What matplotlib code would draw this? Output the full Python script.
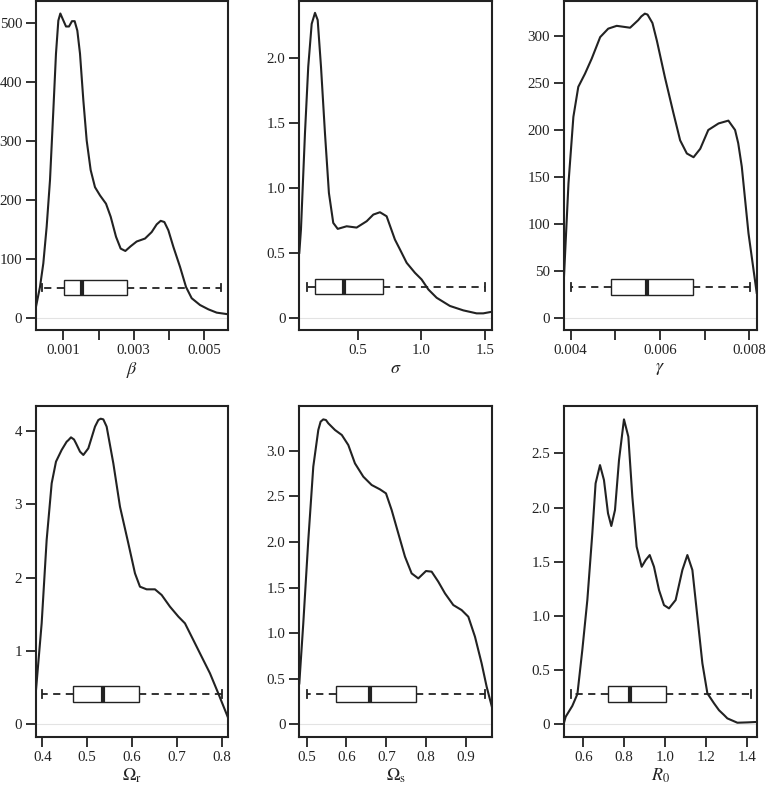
import matplotlib
matplotlib.use("Agg")
import matplotlib.pyplot as plt

plt.rcParams['font.family'] = ['Liberation Serif', 'DejaVu Serif']
plt.rcParams['mathtext.fontset'] = 'stix'

# ---- data (density curves + box summaries) ----
beta_x = [0.000223, 0.000336, 0.000431, 0.000526, 0.000621, 0.000716, 0.000791, 0.000858, 0.000915,
          0.00098, 0.001076, 0.001161, 0.001246, 0.001322, 0.001398, 0.001474, 0.001569, 0.001664,
          0.001777, 0.0019, 0.002043, 0.002213, 0.002346, 0.002498, 0.00263, 0.002763, 0.002915,
          0.003085, 0.003322, 0.003512, 0.003654, 0.003768, 0.003872, 0.003986, 0.004128, 0.004318,
          0.004488, 0.004649, 0.004886, 0.005123, 0.00536, 0.00569]
beta_y = [19.7, 53, 93, 155, 234, 352, 448, 504, 516, 507, 494, 494, 503, 503, 487, 448, 369, 301,
          251, 222, 208, 194, 172, 138, 118, 114, 122, 130, 135, 146, 159, 165, 163, 149, 121, 87,
          53, 34, 22.5, 15.2, 9.6, 6.8]
beta_box = dict(whislo=0.000403, q1=0.00102, med=0.00152, q3=0.0028, whishi=0.00548)

sigma_x = [0.043, 0.056, 0.0875, 0.113, 0.140, 0.166, 0.187, 0.213, 0.244, 0.275, 0.309, 0.344,
           0.414, 0.492, 0.571, 0.623, 0.675, 0.727, 0.792, 0.832, 0.884, 0.949, 1.001, 1.054,
           1.119, 1.223, 1.328, 1.432, 1.484, 1.555]
sigma_y = [0.499, 0.678, 1.42, 1.93, 2.26, 2.345, 2.29, 1.93, 1.42, 0.959, 0.729, 0.683,
           0.703, 0.693, 0.742, 0.793, 0.811, 0.78, 0.601, 0.524, 0.422, 0.345, 0.294, 0.217,
           0.153, 0.090, 0.056, 0.033, 0.033, 0.046]
sigma_box = dict(whislo=0.100, q1=0.166, med=0.393, q3=0.701, whishi=1.5)

gamma_x = [0.00385, 0.00395, 0.00406, 0.00417, 0.00432, 0.00447, 0.00466, 0.00484, 0.00503, 0.00518,
           0.00533, 0.00551, 0.00558, 0.00566, 0.00572, 0.00583, 0.00593, 0.00611, 0.0063, 0.00645,
           0.0066, 0.00675, 0.0069, 0.00708, 0.00731, 0.00753, 0.00768, 0.00775, 0.00783, 0.00798,
           0.008164]
gamma_y = [44, 143, 214, 246, 260, 276, 299, 308, 311, 310, 309, 317, 321, 324, 323, 314, 295, 256,
           218, 189, 175, 171, 180, 200, 207, 210, 200, 186, 161, 90, 26.5]
gamma_box = dict(whislo=0.004, q1=0.0049, med=0.0057, q3=0.00673, whishi=0.00801)

omr_x = [0.3859, 0.3985, 0.4096, 0.4208, 0.4304, 0.443, 0.4542, 0.4579, 0.4638, 0.4705, 0.475,
         0.4839, 0.4913, 0.5024, 0.5173, 0.5247, 0.5299, 0.5358, 0.5432, 0.5581, 0.5729, 0.5915,
         0.6063, 0.6174, 0.6323, 0.6508, 0.6657, 0.6842, 0.7030, 0.7176, 0.7362, 0.7547, 0.7733,
         0.7918, 0.8141]
omr_y = [0.468, 1.376, 2.511, 3.283, 3.578, 3.737, 3.85, 3.87, 3.909, 3.88, 3.827, 3.714, 3.669,
         3.759, 4.055, 4.145, 4.163, 4.154, 4.055, 3.555, 2.965, 2.465, 2.057, 1.875, 1.839, 1.839,
         1.762, 1.603, 1.467, 1.376, 1.149, 0.922, 0.695, 0.422, 0.082]
omr_box = dict(whislo=0.4, q1=0.469, med=0.5343, q3=0.616, whishi=0.8)

oms_x = [0.4816, 0.4916, 0.5042, 0.5167, 0.5293, 0.5351, 0.5418, 0.5485, 0.5544, 0.5711, 0.5883,
         0.6046, 0.6213, 0.6423, 0.6632, 0.6841, 0.6992, 0.7134, 0.7301, 0.7469, 0.7636, 0.7803,
         0.7996, 0.8138, 0.8305, 0.8473, 0.8682, 0.8891, 0.9059, 0.9226, 0.9393, 0.9519, 0.9661]
oms_y = [0.449, 1.107, 2.021, 2.825, 3.227, 3.318, 3.343, 3.336, 3.3, 3.227, 3.172, 3.062, 2.861,
         2.715, 2.624, 2.576, 2.532, 2.35, 2.094, 1.838, 1.655, 1.6, 1.681, 1.674, 1.564, 1.436,
         1.308, 1.253, 1.18, 0.961, 0.669, 0.413, 0.175]
oms_box = dict(whislo=0.5, q1=0.5736, med=0.659, q3=0.7736, whishi=0.9485)

r0_x = [0.5053, 0.5135, 0.546, 0.571, 0.595, 0.6196, 0.644, 0.660, 0.6816, 0.701, 0.7208, 0.737,
        0.755, 0.7747, 0.799, 0.8204, 0.840, 0.861, 0.8857, 0.9053, 0.925, 0.946, 0.9706, 0.995,
        1.0195, 1.052, 1.085, 1.1095, 1.134, 1.1585, 1.183, 1.2075, 1.24, 1.2645, 1.289, 1.3053,
        1.3543, 1.4033, 1.449]
r0_y = [0.015, 0.07, 0.17, 0.28, 0.686, 1.147, 1.762, 2.223, 2.392, 2.254, 1.947, 1.83, 1.977,
        2.438, 2.814, 2.654, 2.10, 1.639, 1.454, 1.516, 1.562, 1.454, 1.239, 1.10, 1.07, 1.147,
        1.424, 1.562, 1.424, 0.993, 0.563, 0.286, 0.194, 0.13, 0.086, 0.055, 0.015, 0.018, 0.022]
r0_box = dict(whislo=0.538, q1=0.7224, med=0.8286, q3=1.0033, whishi=1.4196)

labels = [r'$\beta$', r'$\sigma$', r'$\gamma$',
          r'$\Omega_{\mathrm{r}}$', r'$\Omega_{\mathrm{s}}$', r'$R_0$']

xtick_vals = [[0.001, 0.002, 0.003, 0.004, 0.005], [0.5, 1.0, 1.5],
              [0.004, 0.005, 0.006, 0.007, 0.008], [0.4, 0.5, 0.6, 0.7, 0.8],
              [0.5, 0.6, 0.7, 0.8, 0.9], [0.6, 0.8, 1.0, 1.2, 1.4]]
xtick_labels = [['0.001', '', '0.003', '', '0.005'], ['0.5', '1.0', '1.5'],
                ['0.004', '', '0.006', '', '0.008'], ['0.4', '0.5', '0.6', '0.7', '0.8'],
                ['0.5', '0.6', '0.7', '0.8', '0.9'], ['0.6', '0.8', '1.0', '1.2', '1.4']]
ytick_vals = [[0, 100, 200, 300, 400, 500], [0, 0.5, 1.0, 1.5, 2.0],
              [0, 50, 100, 150, 200, 250, 300], [0, 1, 2, 3, 4],
              [0, 0.5, 1.0, 1.5, 2.0, 2.5, 3.0], [0, 0.5, 1.0, 1.5, 2.0, 2.5]]
ytick_labels = [['0', '100', '200', '300', '400', '500'], ['0', '0.5', '1.0', '1.5', '2.0'],
                ['0', '50', '100', '150', '200', '250', '300'], ['0', '1', '2', '3', '4'],
                ['0', '0.5', '1.0', '1.5', '2.0', '2.5', '3.0'],
                ['0', '0.5', '1.0', '1.5', '2.0', '2.5']]

xlims = [(0.000223, 0.00569), (0.043, 1.555), (0.00385, 0.008164),
         (0.3859, 0.8141), (0.4816, 0.9661), (0.5053, 1.449)]
ylims = [(-19.8, 538), (-0.095, 2.44), (-13.1, 338), (-0.168, 4.34), (-0.135, 3.493), (-0.114, 2.94)]
# vertical position / height of the horizontal boxplots
box_pos = [52, 0.238, 32.6, 0.415, 0.334, 0.281]
box_h = [26, 0.118, 16.3, 0.213, 0.172, 0.145]

curves = [(beta_x, beta_y), (sigma_x, sigma_y), (gamma_x, gamma_y),
          (omr_x, omr_y), (oms_x, oms_y), (r0_x, r0_y)]
boxes = [beta_box, sigma_box, gamma_box, omr_box, oms_box, r0_box]

W, H = 766, 798
fig = plt.figure(figsize=(W / 100, H / 100), dpi=100)
fig.patch.set_facecolor('white')

# axes placements in pixels: left, top, right, bottom
rects = [(36, 0.5, 228.3, 330), (299.3, 0.5, 492.3, 330), (564, 0.5, 756.7, 330),
         (36, 405.7, 228.3, 736.7), (299.3, 405.7, 492.3, 736.7), (564, 405.7, 756.7, 736.7)]

ink = '#222222'
for i in range(6):
    l, t, r, b = rects[i]
    ax = fig.add_axes([l / W, (H - b) / H, (r - l) / W, (b - t) / H])
    ax.axhline(0, color='#e3e3e3', lw=0.8, zorder=0)
    xs, ys = curves[i]
    ax.plot(xs, ys, color=ink, lw=1.5, solid_joinstyle='round', zorder=3)

    st = dict(boxes[i])
    ax.bxp([st], positions=[box_pos[i]], widths=[box_h[i]], capwidths=[box_h[i] * 0.5],
           orientation='horizontal', showfliers=False, patch_artist=True,
           boxprops=dict(facecolor='white', edgecolor=ink, lw=1.0),
           medianprops=dict(color=ink, lw=3.0),
           whiskerprops=dict(color=ink, lw=1.3, linestyle=(0, (4, 3))),
           capprops=dict(color=ink, lw=1.3), manage_ticks=False)

    ax.set_xlim(xlims[i])
    ax.set_ylim(ylims[i])
    ax.set_xticks(xtick_vals[i])
    ax.set_xticklabels(xtick_labels[i])
    ax.set_yticks(ytick_vals[i])
    ax.set_yticklabels(ytick_labels[i])
    ax.tick_params(direction='out', length=7, width=1.3, colors=ink, labelsize=10.8, pad=3)
    for s in ax.spines.values():
        s.set_linewidth(1.5)
        s.set_color(ink)
    ax.set_xlabel(labels[i], fontsize=13, color=ink, labelpad=2)

fig.savefig('out.png', dpi=100, facecolor='white')
